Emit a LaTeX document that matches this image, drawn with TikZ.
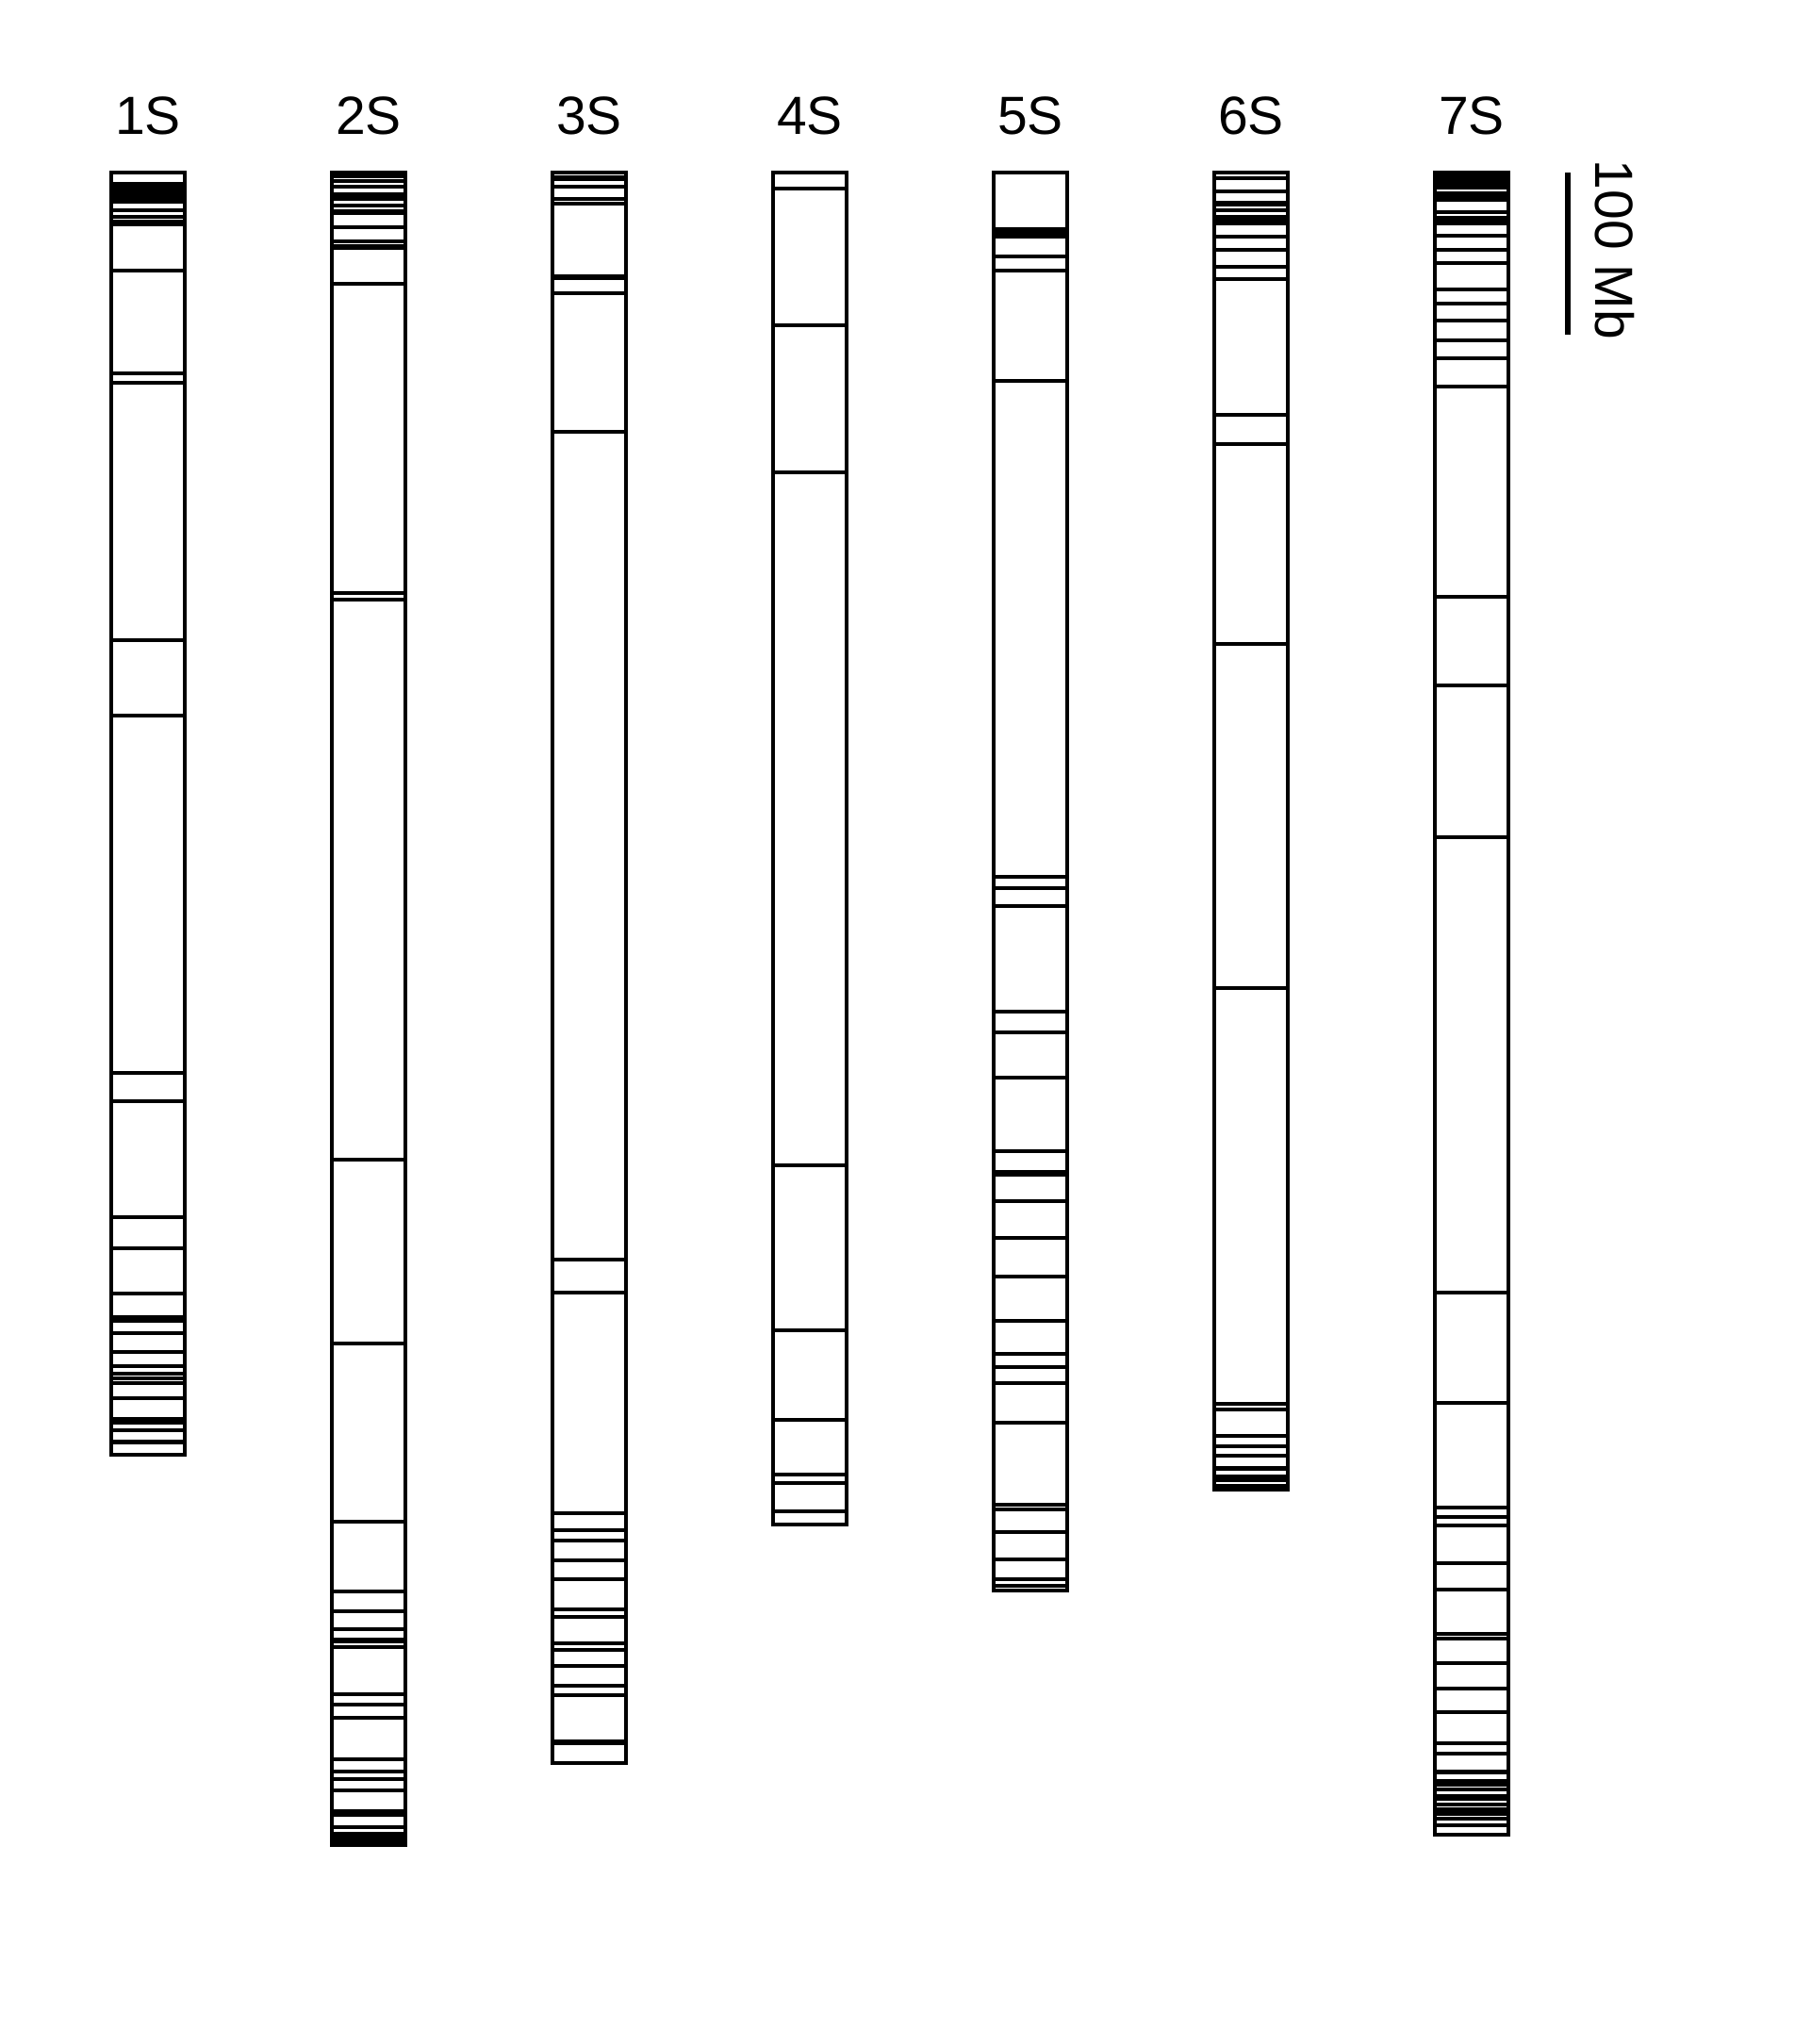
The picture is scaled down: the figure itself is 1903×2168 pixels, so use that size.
\documentclass[tikz,border=0pt]{standalone}
\usepackage{fontspec}
\setmainfont{Liberation Sans}
\newcommand\drawchr[5]{%
  \foreach \y in {#3} \draw[band] (#1-39,\y) -- (#1+39,\y);
  \foreach \a/\b in {#4} \fill (#1-39,\a) rectangle (#1+39,\b);
  \draw[outline] (#1-39,183) rectangle (#1+39,#2);
  \node[lbl] at (#1,123) {#5};
}
\begin{document}
\begin{tikzpicture}[x=0.5pt,y=-0.5pt,
  band/.style={line width=1.7pt},
  outline/.style={line width=2.2pt},
  lbl/.style={font=\fontsize{28.5}{31}\selectfont, inner sep=0pt}]
\useasboundingbox[fill=white] (0,0) rectangle (1903,2168);
% 1S
\drawchr{157}{1543}{223,230,235,238,287,396,406,679,759,1138,1168,1291,1324,1372,1397,1401,1414,1434,1449,1457,1462,1467,1483,1505,1509,1517}{193/216,1527/1532}{1S}
% 2S
\drawchr{391}{1957}{187,192,198,218,241,256,301,629,636,1230,1425,1614,1688,1709,1728,1747,1797,1808,1822,1866,1879,1887,1899,1921,1925,1938,1945,1949,1953}{204/213,222/228,259/265,1737/1743}{2S}
% 3S
\drawchr{625}{1870}{198,211,311,458,1336,1371,1605,1623,1634,1655,1675,1707,1715,1743,1750,1767,1788,1798}{186/192,214/218,291/297,1845/1851}{3S}
% 4S
\drawchr{859}{1617}{345,501,1236,1411,1506,1564,1573,1603}{198/202}{4S}
% 5S
\drawchr{1093}{1687}{251,272,287,404,930,942,961,1073,1095,1143,1221,1243,1246,1274,1313,1354,1401,1436,1450,1509,1596,1601,1625,1682}{241/249,1465/1469,1652/1656,1673/1677}{5S}
% 6S
\drawchr{1327}{1580}{189,203,223,234,237,251,265,283,296,440,683,1048,1489,1495,1523,1534,1544}{213/219,228/232,469/473,1555/1560,1564/1572,1574/1580}{6S}
% 7S
\drawchr{1561}{1946}{225,250,265,279,307,322,340,361,410,633,727,888,1371,1488,1599,1609,1618,1658,1686,1733,1738,1764,1791,1816,1849,1860,1898,1914,1929,1936}{181/201,203/214,229/239,378/382,1877/1882,1887/1895,1903/1910,1917/1926}{7S}
% scale bar
\coordinate (sbtop) at (1663,183);
\coordinate (sbbot) at (1663,355);
\draw[line width=3pt] (sbtop) -- (sbbot);
\node[lbl, rotate=-90] (sblabel) at (1713,265) {100 Mb};
\end{tikzpicture}
\end{document}
